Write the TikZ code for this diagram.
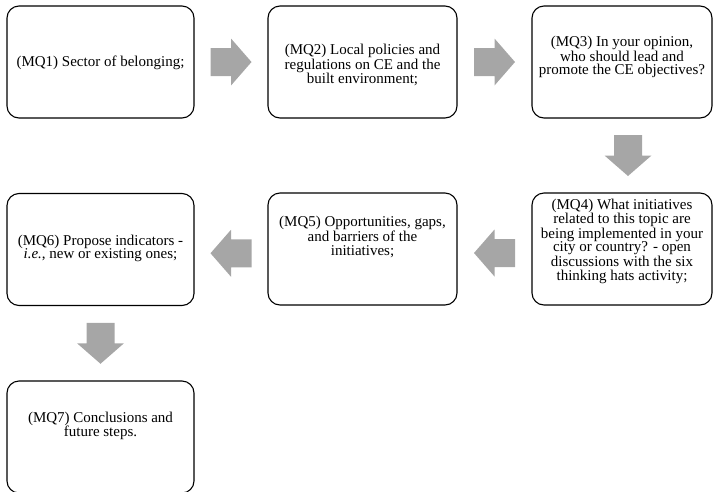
\documentclass[tikz,border=0pt]{standalone}
\usepackage{fontspec}
\setmainfont{Liberation Serif}
\usetikzlibrary{calc}
\definecolor{arrowgray}{RGB}{166,166,166}
\begin{document}
\begin{tikzpicture}[x=1pt,y=-1pt,
  qbox/.style={draw=black, line width=1.1pt, rounded corners=12pt, fill=white, inner sep=0pt},
  qtext/.style={align=center, font=\fontsize{15}{13.5}\selectfont, inner sep=0pt, text=black},
  blockarrow/.pic={\fill[arrowgray] (-20.5,-14) -- (0,-14) -- (0,-23.5) -- (20.5,0) -- (0,23.5) -- (0,14) -- (-20.5,14) -- cycle;}]
\useasboundingbox (0,0) rectangle (713,491);
% boxes
\node[qbox, minimum width=187pt, minimum height=112pt] (b1) at (100.5,62) {};
\node[qbox, minimum width=189pt, minimum height=112pt] (b2) at (362.5,62) {};
\node[qbox, minimum width=180pt, minimum height=112pt] (b3) at (622,62) {};
\node[qbox, minimum width=180pt, minimum height=112pt] (b4) at (622,249) {};
\node[qbox, minimum width=189pt, minimum height=112pt] (b5) at (362.5,249) {};
\node[qbox, minimum width=187pt, minimum height=112pt] (b6) at (100.5,249.5) {};
\node[qbox, minimum width=187pt, minimum height=112pt] (b7) at (100.5,437) {};
% texts
\node[qtext] (t1) at (100.5,63) {(MQ1) Sector of belonging;};
\node[qtext] (t2) at (362.5,65) {(MQ2) Local policies and\\regulations on CE and the\\built environment;};
\node[qtext] (t3) at (622,57) {(MQ3) In your opinion,\\who should lead and\\promote the CE objectives?};
\node[qtext] (t4) at (622,241) {(MQ4) What initiatives\\related to this topic are\\being implemented in your\\city or country? - open\\discussions with the six\\thinking hats activity;};
\node[qtext] (t5) at (362.5,237) {(MQ5) Opportunities, gaps,\\and barriers of the\\initiatives;};
\node[qtext] (t6) at (100.5,248.5) {(MQ6) Propose indicators -\\\textit{i.e.}, new or existing ones;};
\node[qtext] (t7) at (100.5,426) {(MQ7) Conclusions and\\future steps.};
% block arrows between boxes
\pic at ($(b1.east)!.5!(b2.west)$) {blockarrow};
\pic at ($(b2.east)!.5!(b3.west)$) {blockarrow};
\pic[rotate=-90] at ($($(b3.south)!.5!(b4.north)$)+(6,0)$) {blockarrow};
\pic[rotate=180] at ($($(b4.west)!.5!(b5.east)$)+(0,4)$) {blockarrow};
\pic[rotate=180] at ($($(b5.west)!.5!(b6.east)$)+(0,4)$) {blockarrow};
\pic[rotate=-90] at ($(b6.south)!.5!(b7.north)$) {blockarrow};
\end{tikzpicture}
\end{document}
